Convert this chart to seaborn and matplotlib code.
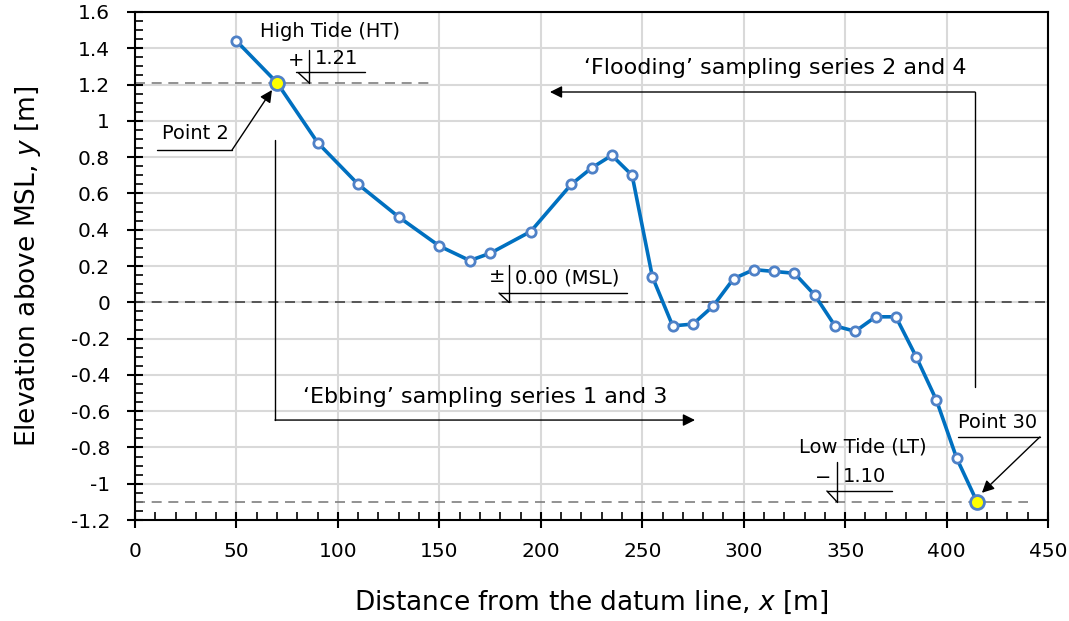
import numpy as np
import pandas as pd
import matplotlib
matplotlib.use('Agg')
import matplotlib.pyplot as plt
from matplotlib.ticker import MultipleLocator, FuncFormatter
import seaborn as sns

# profile data (distance from datum line, elevation above MSL)
dist = [50, 70, 90, 110, 130, 150, 165, 175, 195, 215, 225, 235, 245, 255, 265,
        275, 285, 295, 305, 315, 325, 335, 345, 355, 365, 375, 385, 395, 405, 415]
elev = [1.44, 1.21, 0.88, 0.65, 0.47, 0.31, 0.23, 0.27, 0.39, 0.65, 0.74, 0.81, 0.70, 0.14, -0.13,
        -0.12, -0.02, 0.13, 0.18, 0.17, 0.16, 0.04, -0.13, -0.16, -0.08, -0.08, -0.30, -0.54, -0.86, -1.10]
highTide = 1.21
lowTide = -1.10
msl = 0.0

df = pd.DataFrame({'x': dist, 'y': elev})
hiDf = df.iloc[[1, -1]]

sns.set_style('white')
plt.rcParams['font.family'] = ['DejaVu Sans']
plt.rcParams['axes.unicode_minus'] = False
for k in ['text.color', 'axes.labelcolor', 'xtick.color', 'ytick.color']:
    plt.rcParams[k] = 'black'

fig = plt.figure(figsize=(10.69, 6.21), dpi=100)
ax = fig.add_axes([0.1263, 0.1626, 0.8541, 0.8181])

lineColor = '#0070C0'
edgeColor = '#4F81C7'

# reference lines
ax.plot([0, 148], [highTide, highTide], ls=(0, (6, 4)), c='#7f7f7f', lw=1.2, zorder=2)
ax.plot([0, 450], [msl, msl], ls=(0, (6, 4)), c='#404040', lw=1.2, zorder=2)
ax.plot([0, 440], [lowTide, lowTide], ls=(0, (6, 4)), c='#7f7f7f', lw=1.2, zorder=2)

sns.lineplot(data=df, x='x', y='y', ax=ax, color=lineColor, lw=2.6, zorder=3)
sns.scatterplot(data=df, x='x', y='y', ax=ax, s=45, color='white', edgecolor=edgeColor,
                linewidth=2, zorder=4)
sns.scatterplot(data=hiDf, x='x', y='y', ax=ax, s=100, color='#FFFF00', edgecolor=edgeColor,
                linewidth=2, zorder=5)

ax.set_xlim(0, 450)
ax.set_ylim(-1.2, 1.6)
ax.xaxis.set_major_locator(MultipleLocator(50))
ax.xaxis.set_minor_locator(MultipleLocator(10))
ax.yaxis.set_major_locator(MultipleLocator(0.2))
ax.yaxis.set_minor_locator(MultipleLocator(0.05))
ax.yaxis.set_major_formatter(FuncFormatter(lambda v, p: '%g' % round(v, 2)))
ax.grid(True, which='major', color='#d9d9d9', lw=1.5, zorder=0)
ax.set_axisbelow(True)
ax.tick_params(which='major', direction='inout', length=12, width=1.5, labelsize=14.5, color='k')
ax.tick_params(axis='x', which='major', pad=10)
ax.tick_params(axis='y', which='major', pad=12)
ax.tick_params(which='minor', direction='in', length=6, width=1.2, color='k')
ax.tick_params(axis='x', which='both', bottom=True)
ax.tick_params(axis='y', which='both', left=True)
for s in ax.spines.values():
    s.set_color('k')
    s.set_linewidth(1.5)

ax.set_xlabel('Distance from the datum line, $\\it{x}$ [m]', fontsize=19, labelpad=20)
ax.set_ylabel('Elevation above MSL, $\\it{y}$ [m]', fontsize=19, labelpad=20)

fs = 14
lk = dict(c='k', lw=1, zorder=6)
ak = dict(arrowstyle='-|>', color='k', lw=1, mutation_scale=18, shrinkA=0, shrinkB=0)

# high tide marker
ax.text(96, 1.49, 'High Tide (HT)', ha='center', va='center', fontsize=fs)
ax.text(79.3, 1.33, '+', ha='center', va='center', fontsize=fs)
ax.text(88.5, 1.345, '1.21', ha='left', va='center', fontsize=fs)
ax.plot([85.8, 85.8], [1.39, highTide], **lk)
ax.plot([79.3, 113.4], [1.27, 1.27], **lk)
ax.plot([80.5, 85.8], [1.265, highTide], **lk)

# MSL marker
ax.text(178.4, 0.14, '\u00b1', ha='center', va='center', fontsize=fs)
ax.text(187.3, 0.135, '0.00 (MSL)', ha='left', va='center', fontsize=fs)
ax.plot([184.3, 184.3], [0.206, msl], **lk)
ax.plot([179.4, 242.5], [0.051, 0.051], **lk)
ax.plot([179.4, 184.3], [0.051, msl], **lk)

# low tide marker
ax.text(358.8, -0.80, 'Low Tide (LT)', ha='center', va='center', fontsize=fs)
ax.text(339.1, -0.965, '\u2212', ha='center', va='center', fontsize=fs)
ax.text(349, -0.96, '1.10', ha='left', va='center', fontsize=fs)
ax.plot([346, 346], [-0.88, lowTide], **lk)
ax.plot([341, 373], [-1.04, -1.04], **lk)
ax.plot([341, 346], [-1.04, lowTide], **lk)

# point labels
ax.text(29.6, 0.93, 'Point 2', ha='center', va='center', fontsize=fs)
ax.plot([10.8, 47.8], [0.839, 0.839], **lk)
ax.annotate('', xy=(67.5, 1.17), xytext=(47.8, 0.839), arrowprops=ak, zorder=6)
ax.text(425.3, -0.66, 'Point 30', ha='center', va='center', fontsize=fs)
ax.plot([405.6, 446], [-0.742, -0.742], **lk)
ax.annotate('', xy=(417.4, -1.05), xytext=(446, -0.742), arrowprops=ak, zorder=6)

# sampling direction arrows
ax.plot([414, 414], [-0.467, 1.159], **lk)
ax.annotate('', xy=(204.5, 1.159), xytext=(414, 1.159), arrowprops=ak, zorder=6)
ax.text(315.4, 1.29, '\u2018Flooding\u2019 sampling series 2 and 4', ha='center', va='center', fontsize=16)

ax.plot([69, 69], [0.894, -0.649], **lk)
ax.annotate('', xy=(276, -0.649), xytext=(69, -0.649), arrowprops=ak, zorder=6)
ax.text(172.5, -0.52, '\u2018Ebbing\u2019 sampling series 1 and 3', ha='center', va='center', fontsize=16)

fig.savefig('out.png', dpi=100)
